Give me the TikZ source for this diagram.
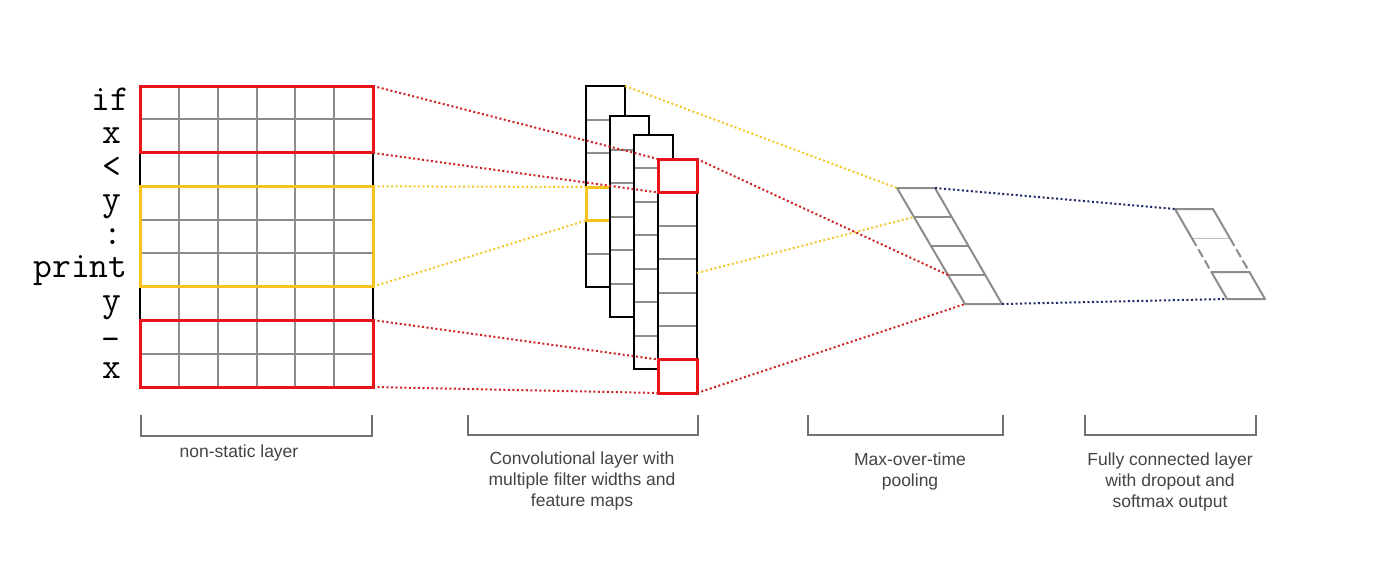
\documentclass[tikz,border=0pt]{standalone}
\usepackage{fontspec}
\setmainfont{Liberation Sans}
\usetikzlibrary{calc}
\definecolor{boxred}{RGB}{232,20,26}
\definecolor{boxyellow}{RGB}{248,194,28}
\definecolor{dotred}{RGB}{205,35,35}
\definecolor{dotyellow}{RGB}{242,200,45}
\definecolor{dotnavy}{RGB}{30,40,105}
\definecolor{gridgray}{RGB}{140,140,140}
\definecolor{brgray}{RGB}{112,112,112}
\definecolor{labelgray}{RGB}{68,68,68}
\begin{document}
\begin{tikzpicture}[x=1pt,y=-1pt,
  gridline/.style={gridgray, line width=2pt},
  mapbox/.style={draw=black, fill=white, line width=2pt, inner sep=0pt, outer sep=0pt, minimum width=39pt, anchor=north west},
  hotred/.style={draw=boxred, line width=3pt, inner sep=0pt, outer sep=0pt, anchor=north west},
  hotyellow/.style={draw=boxyellow, line width=3pt, inner sep=0pt, outer sep=0pt, anchor=north west},
  link/.style={line width=2pt, dash pattern=on 2pt off 2.5pt},
  word/.style={font=\ttfamily\fontsize{36.5}{36.5}\selectfont, anchor=base, inner sep=0pt},
  bracket/.style={brgray, line width=2pt},
  caption/.style={font=\fontsize{17.5}{21}\selectfont, text=labelgray, align=center, inner sep=0pt},
]
\fill[white] (0,0) rectangle (1400,565);
\useasboundingbox (0,0) rectangle (1400,565);

% ---------- input matrix ----------
\foreach \i in {1,...,5} \draw[gridline] (140+38.833*\i,86) -- (140+38.833*\i,387);
\foreach \j in {1,...,8} \draw[gridline] (140,86+33.444*\j) -- (373,86+33.444*\j);
\node[draw=black, line width=2pt, inner sep=0pt, outer sep=0pt, minimum width=233pt, minimum height=301pt, anchor=north west] (grid) at (140,86) {};
\node[hotyellow, minimum width=233pt, minimum height=100.3pt] (ywin) at (140,186.3) {};
\node[hotred, minimum width=233pt, minimum height=66.9pt] (rtop) at (140,86) {};
\node[hotred, minimum width=233pt, minimum height=66.9pt] (rbot) at (140,320.1) {};

% words
\foreach \cx/\w/\r/\dy in {110/if/0/0, 112/x/1/0, 112/</2/0, 112/y/3/0, 113/:/4/0, 80.5/print/5/0, 112/y/6/0, 111/-/7/6, 112/x/8/0}
  \node[word] (w\r) at (\cx,86+33.444*\r+16.7+7.8+\dy) {\w};

% ---------- convolutional feature maps ----------
\node[mapbox, minimum height=201pt] (m1) at (586,86) {};
\foreach \k in {1,...,5} \draw[gridline] (587,86+33.5*\k) -- (624,86+33.5*\k);
\node[hotyellow, minimum width=39pt, minimum height=33.5pt] (ycell) at (586,187) {};
\node[mapbox, minimum height=201pt] (m2) at (610,116) {};
\foreach \k in {1,...,5} \draw[gridline] (611,116+33.5*\k) -- (648,116+33.5*\k);
\node[mapbox, minimum height=234pt] (m3) at (634,135) {};
\foreach \k in {1,...,6} \draw[gridline] (635,135+33.43*\k) -- (672,135+33.43*\k);
\node[mapbox, minimum height=234pt] (m4) at (658,159) {};
\foreach \k in {1,...,6} \draw[gridline] (659,159+33.43*\k) -- (696,159+33.43*\k);
\node[hotred, minimum width=39pt, minimum height=33.5pt] (ctop) at (658,159) {};
\node[hotred, minimum width=39pt, minimum height=33.5pt] (cbot) at (658,359.5) {};
\coordinate (ysrc) at ($(m4.north east)!0.487!(m4.south east)$);

% ---------- max-over-time pooling ----------
\coordinate (ptl) at (897,188);
\coordinate (ptr) at (935,188);
\coordinate (pbr) at (1002,304);
\coordinate (pbl) at (965,304);
\coordinate (p1l) at (914,217);   \coordinate (p1r) at (952,217);
\coordinate (p2l) at (931,246);   \coordinate (p2r) at (969,246);
\coordinate (p3l) at (948,275);   \coordinate (p3r) at (986,275);
\draw[gridline, line join=round] (ptl) -- (ptr) -- (pbr) -- (pbl) -- cycle;
\draw[gridline] (p1l) -- (p1r);
\draw[gridline] (p2l) -- (p2r);
\draw[gridline] (p3l) -- (p3r);

% ---------- fully connected layer ----------
\coordinate (ftl) at (1175,209);
\coordinate (ftr) at (1213,209);
\coordinate (fal) at (1191.8,238);
\coordinate (far) at (1229.8,238);
\coordinate (fbl) at (1211.4,272);
\coordinate (fbr) at (1249.4,272);
\coordinate (fbotl) at (1227,299);
\coordinate (fbotr) at (1265,299);
\draw[gridline, line join=round] (fal) -- (ftl) -- (ftr) -- (far);
\draw[gridgray!55, line width=1pt] (fal) -- (far);
\draw[gridline, dash pattern=on 9pt off 4pt] (fal) -- (fbl);
\draw[gridline, dash pattern=on 9pt off 4pt] (far) -- (fbr);
\draw[gridline, line join=round] (fbl) -- (fbr) -- (fbotr) -- (fbotl) -- cycle;

% ---------- dotted connectors ----------
\draw[link, dotred] (rtop.north east) -- (ctop.north west);
\draw[link, dotred] (rtop.south east) -- (ctop.south west);
\draw[link, dotred] (rbot.north east) -- (cbot.north west);
\draw[link, dotred] (rbot.south east) -- (cbot.south west);
\draw[link, dotyellow] (ywin.north east) -- (ycell.north west);
\draw[link, dotyellow] (ywin.south east) -- (ycell.south west);
\draw[link, dotyellow] (m1.north east) -- (ptl);
\draw[link, dotyellow] (ysrc) -- (p1l);
\draw[link, dotred] (ctop.north east) -- (p3l);
\draw[link, dotred] (cbot.south east) -- (pbl);
\draw[link, dotnavy] (ptr) -- (ftl);
\draw[link, dotnavy] (pbr) -- (fbotl);

% ---------- brackets and captions ----------
\draw[bracket] (141,415) -- (141,436) -- (372,436) -- (372,415);
\draw[bracket] (468,415) -- (468,435) -- (698,435) -- (698,415);
\draw[bracket] (808,415) -- (808,435) -- (1003,435) -- (1003,415);
\draw[bracket] (1085,415) -- (1085,435) -- (1256,435) -- (1256,415);
\node[caption] (cap1) at (239,453.4) {non-static layer};
\node[caption] (cap2) at (582,481) {Convolutional layer with\\multiple filter widths and\\feature maps};
\node[caption] (cap3) at (910,471.5) {Max-over-time\\pooling};
\node[caption] (cap4) at (1170,482) {Fully connected layer\\with dropout and\\softmax output};
\end{tikzpicture}
\end{document}
